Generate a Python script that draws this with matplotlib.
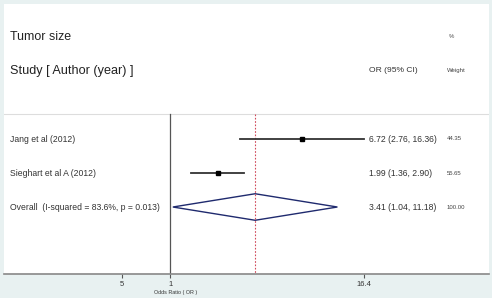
import matplotlib.pyplot as plt
import numpy as np

plt.rcParams['font.family'] = ['Liberation Sans', 'DejaVu Sans']

studies = ['Jang et al (2012)', 'Sieghart et al A (2012)']
odds = [6.72, 1.99]
lower = [2.76, 1.36]
upper = [16.36, 2.90]
weights = ['44.35', '55.65']
overall_label = 'Overall  (I-squared = 83.6%, p = 0.013)'
overall = [3.41, 1.04, 11.18]
overall_weight = '100.00'
tick_vals = [0.5, 1, 16.4]
tick_labels = ['5', '1', '16.4']

fig = plt.figure(figsize=(4.92, 2.98), dpi=100)
fig.patch.set_facecolor('#e8f1f1')
ax = fig.add_axes([4 / 492, 24 / 298, 485 / 492, 270 / 298])
ax.set_facecolor('white')
ax.set_xscale('log', base=2)
ax.set_xlim(2 ** -3.46, 2 ** 6.64)
ax.set_ylim(3.97, -3.97)

for s in ['top', 'left', 'right']:
    ax.spines[s].set_visible(False)
ax.spines['bottom'].set_color('#888888')
ax.spines['bottom'].set_linewidth(1.2)

# header separator and reference lines
ax.axhline(-0.74, color='#dddddd', lw=0.8)
ax.plot([1, 1], [-0.74, 3.97], color='#555555', lw=0.9)
ax.plot([overall[0]] * 2, [-0.74, 3.97], color='#d04a5a', lw=0.8, ls=(0, (1.5, 1.5)))

# study rows
for i in range(len(studies)):
    ax.plot([lower[i], upper[i]], [i, i], color='#333333', lw=1.3)
    ax.plot(odds[i], i, 's', color='black', ms=2.2)

# overall diamond
r = len(studies)
h = 0.39
ax.fill([overall[1], overall[0], overall[2], overall[0], overall[1]],
        [r, r - h, r, r + h, r], facecolor='white', edgecolor='#1f2a6e', lw=1.0)

tr = ax.get_yaxis_transform()
ax.text(0.012, -3, 'Tumor size', transform=tr, fontsize=8.9, va='center', color='#222222')
ax.text(0.012, -2, 'Study [ Author (year) ]', transform=tr, fontsize=9.1, va='center', color='#222222')
ax.text(0.752, -2, 'OR (95% CI)', transform=tr, fontsize=6.1, va='center', color='#333333')
ax.text(0.913, -2, 'Weight', transform=tr, fontsize=4.3, va='center', color='#444444')
ax.text(0.918, -3, '%', transform=tr, fontsize=4.3, va='center', color='#444444')

labels = studies + [overall_label]
ors = [f'{o:.2f} ({l:.2f}, {u:.2f})' for o, l, u in zip(odds, lower, upper)]
ors.append(f'{overall[0]:.2f} ({overall[1]:.2f}, {overall[2]:.2f})')
ws = weights + [overall_weight]
for i in range(len(labels)):
    ax.text(0.012, i, labels[i], transform=tr, fontsize=6.2, va='center', color='#333333')
    ax.text(0.752, i, ors[i], transform=tr, fontsize=6.2, va='center', color='#333333')
    ax.text(0.913, i, ws[i], transform=tr, fontsize=4.3, va='center', color='#444444')

ax.set_yticks([])
ax.set_xticks(tick_vals)
ax.set_xticklabels(tick_labels)
ax.xaxis.set_minor_locator(plt.NullLocator())
ax.tick_params(axis='x', length=3, width=0.8, color='#555555', labelsize=5.5,
               labelcolor='#333333', pad=2)
ax.text(1.08, -0.068, 'Odds Ratio ( OR )', transform=ax.get_xaxis_transform(),
        fontsize=3.9, ha='center', va='center', color='#333333')

fig.savefig('out.png', dpi=100, facecolor=fig.get_facecolor())
